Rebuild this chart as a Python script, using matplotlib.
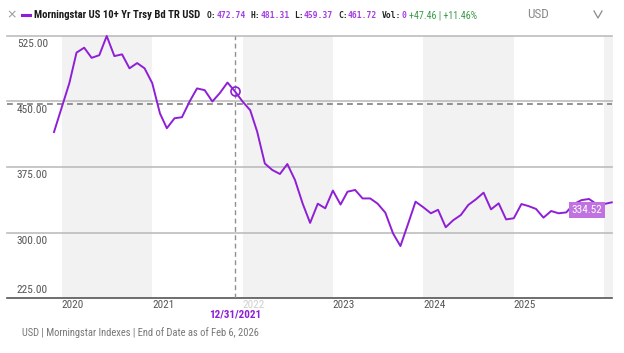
import matplotlib
matplotlib.use("Agg")
import matplotlib.pyplot as plt
from matplotlib import font_manager as fm
from matplotlib.lines import Line2D
import pandas as pd

# ---------------- data ----------------
start_month = "2019-12-01"
values = [415, 443, 471, 506, 511.6, 500, 503, 525, 502, 504, 488, 494, 488, 471,
          436.5, 419.4, 430.8, 432, 450, 465, 463, 450, 459.6, 471.7, 461.72, 450,
          440, 415.5, 379, 371.6, 367, 378.4, 360, 333, 311, 333, 327.7, 348, 332,
          346.7, 348.7, 339, 339, 333, 322.7, 299, 284.5, 310, 335.3, 329, 322, 326,
          306, 314, 320, 331.5, 338, 345.6, 326.5, 333.4, 315, 316.3, 332.6, 330.3,
          327, 317, 324.6, 322, 323, 332.6, 337, 338.4, 332.6, 332.6, 334.52]
y_ticks = [225, 300, 375, 450, 525]
y_tick_labels = ["225.00", "300.00", "375.00", "450.00", "525.00"]
years = [2020, 2021, 2022, 2023, 2024, 2025]
shaded_years = [2020, 2022, 2024, 2026]
marker_index = 24
marker_label = "12/31/2021"
crosshair_value = 447.5
title = "Morningstar US 10+ Yr Trsy Bd TR USD"
ohlc = [("O:", "472.74"), ("H:", "481.31"), ("L:", "459.37"), ("C:", "461.72"), ("Vol:", "0")]
change_text = "+47.46 | +11.46%"
footer = "USD | Morningstar Indexes | End of Date as of Feb 6, 2026"

dates = pd.date_range(start_month, periods=len(values), freq="MS")

# ---------------- fonts: prefer a condensed sans ----------------
def find_condensed(bold):
    prefs = ["Roboto Condensed", "Liberation Sans Narrow", "DejaVu Sans", "Open Sans", "Noto Sans"]
    for pref in prefs:
        for f in fm.fontManager.ttflist:
            st = str(f.stretch).lower()
            cond = ("condensed" in st or "narrow" in st or "Narrow" in f.name
                    or "Condensed" in f.name or "Condensed" in f.fname or "Narrow" in f.fname)
            if not cond or f.name != pref or f.style != "normal":
                continue
            w = f.weight if isinstance(f.weight, int) else (700 if "bold" in str(f.weight) else 400)
            if (w >= 600) == bold:
                return fm.FontProperties(fname=f.fname)
    return None


cond_reg = find_condensed(False) or fm.FontProperties(family="Roboto")
cond_bold = find_condensed(True) or fm.FontProperties(family="Roboto", weight="bold")


def fp(bold, size):
    p = (cond_bold if bold else cond_reg).copy()
    p.set_size(size)
    return p


PURPLE = "#8f1fd6"

W, H = 624, 353
fig = plt.figure(figsize=(W / 100, H / 100), dpi=100)
renderer = fig.canvas.get_renderer()


def fit_width(t, target_px):
    w = t.get_window_extent(renderer).width
    if w > 0:
        t.set_fontsize(t.get_fontsize() * target_px / w)


L, R, T, B = 54, 613, 36, 298
ax = fig.add_axes([L / W, 1 - B / H, (R - L) / W, (B - T) / H])

xmax = dates[-1] + pd.Timedelta(days=5)
ax.set_xlim(dates[0], xmax)
ax.set_ylim(225, 525)
for s in ax.spines.values():
    s.set_visible(False)
ax.set_xticks([])
ax.set_yticks([])

# shaded year bands
for y in shaded_years:
    x0 = pd.Timestamp(f"{y}-01-01")
    x1 = min(pd.Timestamp(f"{y + 1}-01-01"), xmax)
    ax.axvspan(x0, x1, color="#f2f2f2", lw=0, zorder=0)

# gridlines extending into label area
ytr = ax.get_yaxis_transform()
xl = (7 - L) / (R - L)
xr = (612 - L) / (R - L)
for t in y_ticks:
    col = "#555555" if t == y_ticks[0] else "#bdbdbd"
    ax.plot([xl, xr], [t, t], transform=ytr, color=col, lw=1.2, clip_on=False, zorder=1)

# y tick labels
for t, lab in zip(y_ticks, y_tick_labels):
    if t == y_ticks[0]:
        yy, va = t + 4, "bottom"
    else:
        yy, va = t - 4, "top"
    ax.text((48 - L) / (R - L), yy, lab, transform=ytr, ha="right", va=va,
            fontproperties=fp(False, 8.2), color="#555555")

# year labels
xtr = ax.get_xaxis_transform()
for y in years:
    col = "#cfcfcf" if y == 2022 else "#555555"
    ax.text(pd.Timestamp(f"{y}-01-01"), -0.028, str(y), transform=xtr, ha="left",
            va="center", fontproperties=fp(False, 8), color=col)

# crosshair
ax.plot([xl, xr], [crosshair_value, crosshair_value], transform=ytr, color="#808080",
        lw=1.2, ls=(0, (3.5, 2.5)), clip_on=False, zorder=2)
ax.axvline(dates[marker_index], color="#909090", lw=1.0, ls=(0, (3.5, 2.5)), zorder=2)
ax.text(dates[marker_index], -0.062, marker_label, transform=xtr, ha="center", va="center",
        fontproperties=fp(True, 8), color=PURPLE, zorder=5)

# main line
ax.plot(dates, values, color=PURPLE, lw=1.4, clip_on=False, zorder=3)
ax.plot([dates[marker_index]], [values[marker_index]], marker="o", ms=6.5, mfc="none",
        mec=PURPLE, mew=1.2, zorder=4)

# last value label
ax.annotate(f"{values[-1]:.2f}", xy=(dates[-1], values[-1]), xytext=(-18, -5.5),
            textcoords="offset points", ha="center", va="center",
            fontproperties=fp(False, 8), color="white", zorder=6,
            bbox=dict(boxstyle="square,pad=0.25", fc="#c072e0", ec="none"))


# header
def fx(px):
    return px / W


def fy(py):
    return 1 - py / H


fig.text(fx(12), fy(15), "×", ha="center", va="center", fontsize=9, color="#999999")
fig.add_artist(Line2D([fx(22), fx(30)], [fy(15), fy(15)], color=PURPLE, lw=2.2))
tt = fig.text(fx(34), fy(15), title, ha="left", va="center",
              fontproperties=fp(True, 8.6), color="#1a1a1a")
fit_width(tt, 167)

mono_size = 5.8
char_px = 0.6021 * mono_size * 100 / 72
cx = 207
for lab, val in ohlc:
    fig.text(fx(cx), fy(15.5), lab, ha="left", va="center", fontsize=mono_size,
             family="DejaVu Sans Mono", fontweight="bold", color="#222222")
    cx += len(lab) * char_px
    fig.text(fx(cx), fy(15.5), val, ha="left", va="center", fontsize=mono_size,
             family="DejaVu Sans Mono", fontweight="bold", color="#a23ee0")
    cx += (len(val) + 1) * char_px

ct = fig.text(fx(409), fy(15), change_text, ha="left", va="center",
              fontproperties=fp(False, 8.6), color="#3a9a48")
fit_width(ct, 68)
fig.text(fx(527), fy(14), "USD", ha="left", va="center",
         fontproperties=fp(False, 9.5), color="#8a8a8a")
fig.add_artist(Line2D([fx(594), fx(598), fx(602)], [fy(11), fy(18), fy(11)],
                      color="#8a8a8a", lw=0.9))

ft = fig.text(fx(22), fy(333), footer, ha="left", va="center",
              fontproperties=fp(False, 7.8), color="#777777")
fit_width(ft, 240)

fig.savefig("out.png", dpi=100, facecolor="white")
